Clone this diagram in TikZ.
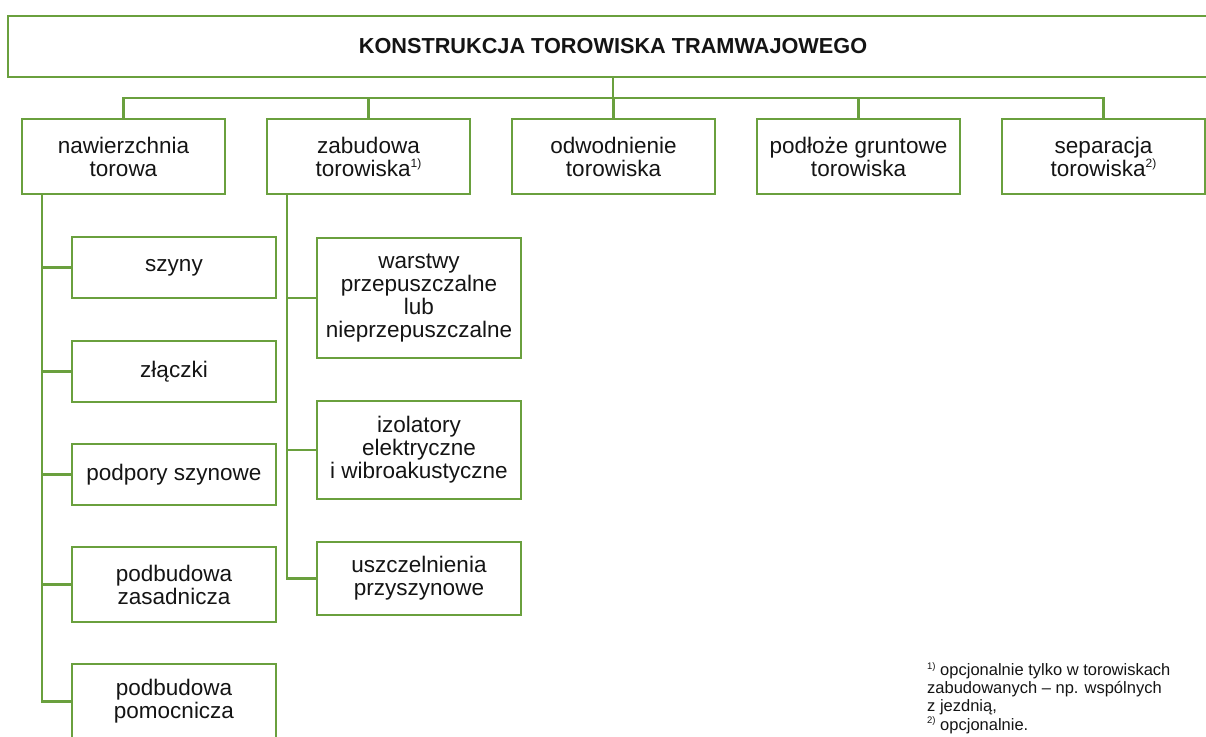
\documentclass[tikz,border=0pt]{standalone}
\usepackage{fontspec}
\setmainfont{Liberation Sans}
\definecolor{tgreen}{RGB}{106,160,62}
\definecolor{ttext}{RGB}{20,20,20}
\newcommand\fnsup[1]{\raisebox{0.75ex}{\fontsize{12}{12}\selectfont #1}}
\newcommand\fnsupsmall[1]{\raisebox{0.7ex}{\fontsize{9.5}{9.5}\selectfont #1}}
\tikzset{
  box/.style={draw=tgreen, line width=2.3pt, minimum width=203pt, minimum height=75pt,
    align=center, inner sep=2pt, text=ttext, font=\fontsize{22.5}{23}\selectfont},
  conn/.style={draw=tgreen, line width=2.3pt, line join=miter}
}
\begin{document}
\begin{tikzpicture}[x=1pt,y=-1pt]
\useasboundingbox (0,0) rectangle (1206,736);
% title
\node[box, minimum width=1210pt, minimum height=61pt, font=\fontsize{21.7}{23}\selectfont\bfseries] (title) at (613,46.5) {KONSTRUKCJA TOROWISKA TRAMWAJOWEGO};
% level 1
\node[box] (b1) at (123.5,156.5) {nawierzchnia\\torowa};
\node[box] (b2) at (368.5,156.5) {zabudowa\\torowiska\fnsup{1)}};
\node[box] (b3) at (613.5,156.5) {odwodnienie\\torowiska};
\node[box] (b4) at (858.5,156.5) {podłoże gruntowe\\torowiska};
\node[box] (b5) at (1103.5,156.5) {separacja\\torowiska\fnsup{2)}};
% children of b1
\node[box, minimum width=204pt, minimum height=61pt] (c1) at (174,267.5) {szyny};
\node[box, minimum width=204pt, minimum height=61pt] (c2) at (174,371.5) {złączki};
\node[box, minimum width=204pt, minimum height=61pt] (c3) at (174,474.5) {podpory szynowe};
\node[box, minimum width=204pt, minimum height=75pt] (c4) at (174,584.5) {podbudowa\\zasadnicza};
\node[box, minimum width=204pt, minimum height=75pt] (c5) at (174,701.5) {podbudowa\\pomocnicza};
% children of b2
\node[box, minimum width=204pt, minimum height=120pt] (d1) at (419,298) {warstwy\\przepuszczalne\\lub\\nieprzepuszczalne};
\node[box, minimum width=204pt, minimum height=98pt] (d2) at (419,450) {izolatory\\elektryczne\\i wibroakustyczne};
\node[box, minimum width=204pt, minimum height=73pt] (d3) at (419,578.5) {uszczelnienia\\przyszynowe};
% connectors
\coordinate (bus) at (0,98);
\coordinate (t1) at (42,0);
\coordinate (t2) at (287,0);
\draw[conn] (title.south) -- (title.south |- bus);
\draw[conn] (b1.north) |- (b5.north |- bus) -- (b5.north);
\draw[conn] (b2.north) -- (b2.north |- bus);
\draw[conn] (b3.north) -- (b3.north |- bus);
\draw[conn] (b4.north) -- (b4.north |- bus);
\draw[conn] (t1 |- b1.south) |- (c5.west);
\draw[conn] (c1.west) -- (c1.west -| t1);
\draw[conn] (c2.west) -- (c2.west -| t1);
\draw[conn] (c3.west) -- (c3.west -| t1);
\draw[conn] (c4.west) -- (c4.west -| t1);
\draw[conn] (t2 |- b2.south) |- (d3.west);
\draw[conn] (d1.west) -- (d1.west -| t2);
\draw[conn] (d2.west) -- (d2.west -| t2);
% footnote
\node[anchor=north west, align=left, inner sep=0pt, text=ttext, font=\fontsize{16.5}{18.3}\selectfont] (fn) at (927,662)
  {\fnsupsmall{1)} opcjonalnie tylko w torowiskach\\zabudowanych – np. wspólnych\\z jezdnią,\\\fnsupsmall{2)} opcjonalnie.};
\end{tikzpicture}
\end{document}
